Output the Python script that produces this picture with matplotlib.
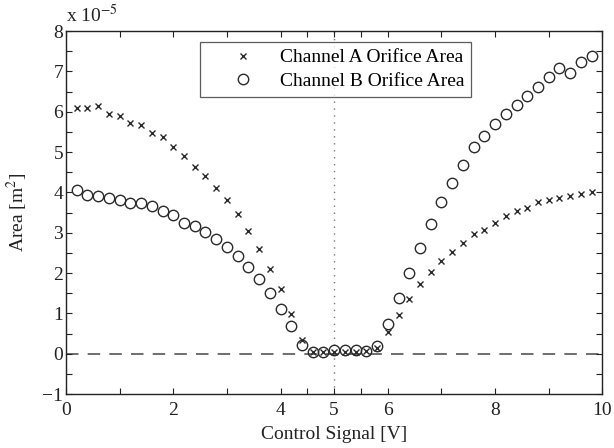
import matplotlib
matplotlib.use("Agg")
import matplotlib.pyplot as plt
import numpy as np

plt.rcParams['font.family'] = ['Liberation Serif', 'DejaVu Serif']
plt.rcParams['mathtext.fontset'] = 'stix'

control_signal = [round(0.2 * i, 1) for i in range(1, 50)]
channel_a = [6.10, 6.10, 6.14, 5.93, 5.90, 5.71, 5.66, 5.46, 5.37, 5.12,
             4.91, 4.64, 4.40, 4.11, 3.82, 3.47, 3.04, 2.60, 2.09, 1.60,
             0.98, 0.34, 0.05, 0.05, 0.03, 0.05, 0.05, 0.07, 0.15, 0.53,
             0.96, 1.35, 1.72, 2.03, 2.31, 2.53, 2.74, 2.96, 3.07, 3.25,
             3.42, 3.54, 3.62, 3.76, 3.82, 3.86, 3.91, 3.95, 4.00]
channel_b = [4.05, 3.94, 3.92, 3.87, 3.82, 3.73, 3.73, 3.66, 3.53, 3.45,
             3.25, 3.17, 3.01, 2.85, 2.65, 2.42, 2.15, 1.85, 1.51, 1.11,
             0.69, 0.21, 0.03, 0.03, 0.08, 0.08, 0.08, 0.06, 0.18, 0.74,
             1.37, 2.01, 2.63, 3.21, 3.75, 4.24, 4.69, 5.13, 5.39, 5.69,
             5.93, 6.16, 6.38, 6.62, 6.85, 7.09, 6.97, 7.23, 7.39]
x_ticks = [0, 1, 2, 3, 4, 4.5, 5, 5.5, 6, 7, 8, 9, 10]
x_tick_labels = ['0', '', '2', '', '4', '', '5', '', '6', '', '8', '', '10']
y_ticks = [-1, -0.5, 0, 0.5, 1, 1.5, 2, 2.5, 3, 3.5, 4, 4.5, 5, 5.5, 6, 6.5, 7, 7.5, 8]
y_tick_labels = ['\u22121', '', '0', '', '1', '', '2', '', '3', '', '4', '', '5', '', '6', '', '7', '', '8']

fs = 14
fig = plt.figure(figsize=(6.14, 4.48), dpi=100)
ax = fig.add_axes([0.1075, 0.1205, 0.8735, 0.8103])

ax.axhline(0, color='#555555', lw=1.2, ls=(0, (7.5, 5.5)), zorder=1)
ax.axvline(5, color='#777777', lw=1.0, ls=(0, (1, 4)), zorder=1)

mc = '#2a2a2a'
ax.plot(control_signal, channel_a, ls='none', marker='x', ms=5, mew=1.0,
        color=mc, label='Channel A Orifice Area', zorder=3)
ax.plot(control_signal, channel_b, ls='none', marker='o', ms=7.5, mew=1.0,
        mfc='none', mec=mc, label='Channel B Orifice Area', zorder=3)

ax.set_xlim(0, 10)
ax.set_ylim(-1, 8)
ax.set_xticks(x_ticks)
ax.set_xticklabels(x_tick_labels)
ax.set_yticks(y_ticks)
ax.set_yticklabels(y_tick_labels)
ax.tick_params(direction='in', top=True, right=True, length=4.5, width=0.8,
               labelsize=fs, colors='#222222')
ax.tick_params(axis='x', pad=6)
ax.tick_params(axis='y', pad=2)
for s in ax.spines.values():
    s.set_linewidth(1.0)
    s.set_color('#222222')

ax.set_xlabel('Control Signal [V]', fontsize=fs, labelpad=5, color='#222222')
ax.set_ylabel('Area [m$^2$]', fontsize=fs, labelpad=9, color='#222222')
ax.text(0.0, 1.012, 'x 10$^{-5}$', transform=ax.transAxes, fontsize=fs,
        ha='left', va='bottom', color='#222222')

leg = ax.legend(loc='upper left', bbox_to_anchor=(0.2496, 0.970), fontsize=fs,
                frameon=True, fancybox=False, edgecolor='#333333',
                handlelength=3.7, handletextpad=0.05, borderpad=0.35,
                labelspacing=0.3, borderaxespad=0)
leg.get_frame().set_linewidth(0.9)

fig.savefig('out.png', dpi=100)
